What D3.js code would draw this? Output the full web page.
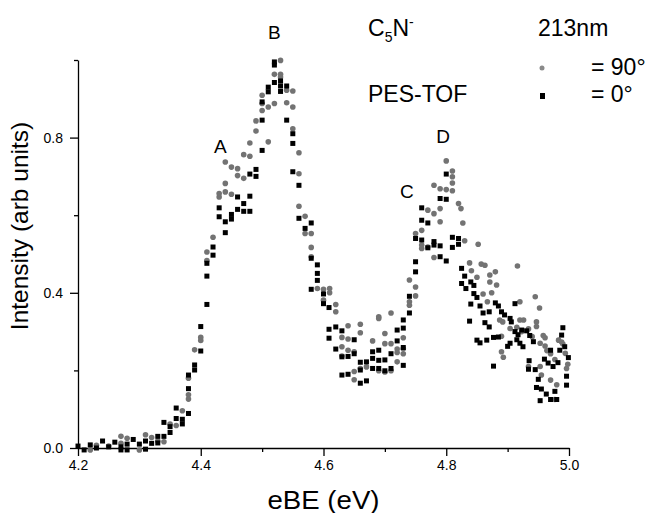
<!DOCTYPE html>
<html>
<head>
<meta charset="utf-8">
<script src="https://cdn.jsdelivr.net/npm/d3@7"></script>
<style>
  body { margin: 0; background: #fff; }
  text { font-family: "Liberation Sans", Arial, sans-serif; fill: #000; }
  .tick text { font-family: "Liberation Sans Narrow", "Liberation Sans", Arial, sans-serif; }
</style>
</head>
<body>
<div id="chart"></div>
<script>
// 90 degree polarisation (grey circles)
var eBE90 = [4.220,4.230,4.250,4.270,4.270,4.280,4.300,4.310,4.320,4.330,4.340,4.350,4.360,4.370,4.380,4.380,4.380,4.390,4.400,4.400,
  4.410,4.410,4.420,4.430,4.430,4.440,4.440,4.450,4.460,4.440,4.450,4.460,4.470,4.470,4.480,4.480,4.490,4.490,4.500,4.500,
  4.500,4.510,4.510,4.520,4.520,4.530,4.530,4.530,4.540,4.540,4.550,4.550,4.550,4.560,4.560,4.560,4.570,4.570,4.580,4.580,
  4.580,4.590,4.600,4.600,4.610,4.610,4.620,4.620,4.630,4.630,4.630,4.640,4.640,4.640,4.650,4.650,4.650,4.660,4.660,4.660,
  4.670,4.680,4.690,4.690,4.690,4.700,4.700,4.700,4.710,4.710,4.710,4.720,4.720,4.720,4.730,4.730,4.730,4.740,4.740,4.740,
  4.750,4.750,4.750,4.760,4.760,4.760,4.770,4.770,4.780,4.780,4.780,4.790,4.790,4.790,4.800,4.800,4.810,4.810,4.810,4.810,
  4.820,4.824,4.827,4.830,4.852,4.838,4.857,4.863,4.916,4.841,4.850,4.871,4.880,4.871,4.882,4.860,4.874,4.867,4.887,4.892,
  4.920,4.945,4.952,4.920,4.926,4.904,4.915,4.947,4.947,4.923,4.934,4.890,4.890,4.893,4.940,4.953,4.961,4.964,4.958,4.961,
  4.983,4.988,4.990,4.970,4.977,4.994,4.998,4.996,4.934,4.953,4.955,4.970,4.980,4.977];
var int90 = [-0.005,0.007,0.005,0.030,0.012,0.025,-0.005,0.034,0.027,0.018,0.016,0.062,0.058,0.096,0.180,0.137,0.126,0.253,0.285,0.277,
  0.505,0.483,0.543,0.647,0.656,0.682,0.737,0.724,0.720,0.660,0.654,0.702,0.695,0.756,0.752,0.786,0.817,0.843,0.870,0.888,
  0.909,0.879,0.789,0.888,0.963,0.999,0.963,0.956,0.922,0.890,0.920,0.879,0.823,0.761,0.707,0.623,0.597,0.553,0.553,0.517,
  0.493,0.411,0.409,0.381,0.411,0.400,0.370,0.351,0.285,0.261,0.237,0.315,0.281,0.252,0.248,0.197,0.176,0.319,0.297,0.205,
  0.209,0.276,0.338,0.334,0.199,0.295,0.269,0.196,0.348,0.269,0.199,0.255,0.246,0.222,0.284,0.256,0.243,0.433,0.377,0.368,
  0.415,0.392,0.553,0.561,0.523,0.514,0.613,0.518,0.604,0.491,0.677,0.668,0.617,0.583,0.666,0.740,0.714,0.699,0.683,0.663,
  0.630,0.617,0.580,0.534,0.525,0.477,0.474,0.471,0.469,0.457,0.440,0.446,0.454,0.428,0.420,0.397,0.400,0.377,0.330,0.325,
  0.377,0.390,0.361,0.330,0.330,0.308,0.311,0.325,0.313,0.300,0.307,0.288,0.248,0.234,0.287,0.270,0.263,0.251,0.290,0.284,
  0.278,0.273,0.268,0.243,0.228,0.244,0.216,0.205,0.210,0.210,0.188,0.175,0.163,0.125];

// 0 degree polarisation (black squares)
var eBE0 = [4.200,4.210,4.220,4.230,4.240,4.250,4.260,4.270,4.270,4.280,4.280,4.290,4.300,4.310,4.310,4.320,4.330,4.330,4.340,4.340,
  4.350,4.350,4.360,4.360,4.370,4.370,4.380,4.380,4.380,4.390,4.390,4.400,4.400,4.410,4.410,4.410,4.420,4.420,4.430,4.430,
  4.440,4.440,4.450,4.450,4.460,4.460,4.470,4.470,4.480,4.480,4.480,4.490,4.490,4.500,4.500,4.500,4.510,4.510,4.520,4.520,
  4.520,4.530,4.530,4.530,4.540,4.540,4.550,4.550,4.550,4.560,4.560,4.570,4.580,4.580,4.580,4.590,4.590,4.590,4.600,4.600,
  4.609,4.609,4.609,4.620,4.620,4.630,4.630,4.630,4.640,4.640,4.650,4.650,4.660,4.660,4.660,4.670,4.670,4.680,4.680,4.680,
  4.690,4.690,4.690,4.700,4.700,4.710,4.710,4.720,4.720,4.730,4.730,4.730,4.730,4.740,4.740,4.750,4.750,4.750,4.760,4.760,
  4.760,4.770,4.770,4.780,4.780,4.790,4.790,4.790,4.800,4.800,4.800,4.810,4.810,4.820,4.820,4.825,4.830,4.825,4.832,4.840,
  4.845,4.845,4.840,4.850,4.855,4.838,4.860,4.870,4.863,4.870,4.880,4.885,4.890,4.895,4.904,4.912,4.906,4.850,4.855,4.866,
  4.877,4.885,4.877,4.900,4.904,4.912,4.917,4.915,4.920,4.925,4.923,4.931,4.936,4.942,4.935,4.934,4.945,4.950,4.947,4.955,
  4.953,4.963,4.970,4.977,4.980,4.960,4.966,4.974,4.982,4.970,4.985,4.988,4.990,4.996,4.996,4.999,4.993];
var int0 = [0.005,-0.005,0.008,0.000,0.018,0.003,0.015,-0.005,0.003,-0.005,0.010,0.022,0.010,-0.003,0.018,0.012,0.013,0.030,0.030,0.066,
  0.040,0.055,0.103,0.076,0.062,0.074,0.089,0.153,0.188,0.201,0.214,0.250,0.313,0.370,0.443,0.476,0.518,0.497,0.619,0.596,
  0.583,0.555,0.602,0.590,0.647,0.615,0.630,0.610,0.649,0.610,0.706,0.718,0.700,0.767,0.845,0.892,0.930,0.918,0.995,0.987,
  0.942,0.946,0.933,0.919,0.933,0.845,0.810,0.785,0.712,0.677,0.592,0.566,0.580,0.489,0.409,0.472,0.450,0.432,0.397,0.372,
  0.362,0.306,0.283,0.312,0.255,0.302,0.235,0.188,0.236,0.190,0.279,0.243,0.221,0.201,0.167,0.173,0.222,0.248,0.231,0.205,
  0.252,0.226,0.205,0.227,0.199,0.243,0.205,0.304,0.276,0.330,0.309,0.259,0.213,0.391,0.348,0.480,0.454,0.540,0.536,0.587,
  0.619,0.580,0.516,0.532,0.523,0.521,0.493,0.643,0.641,0.706,0.482,0.543,0.517,0.540,0.525,0.463,0.443,0.424,0.411,0.428,
  0.419,0.398,0.371,0.388,0.366,0.327,0.348,0.351,0.323,0.312,0.374,0.366,0.351,0.343,0.334,0.372,0.325,0.278,0.271,0.278,
  0.285,0.286,0.211,0.262,0.270,0.300,0.292,0.279,0.270,0.261,0.304,0.302,0.290,0.274,0.225,0.203,0.202,0.177,0.156,0.152,
  0.122,0.139,0.125,0.146,0.125,0.229,0.219,0.210,0.220,0.252,0.252,0.291,0.310,0.185,0.162,0.233,0.261];

var xTicks = [4.2, 4.4, 4.6, 4.8, 5.0];
var xMinor = [4.3, 4.5, 4.7, 4.9];
var yTicks = [0.0, 0.4, 0.8];
var yMinor = [0.2, 0.6, 1.0];

var margin = {top: 60, right: 80, bottom: 65, left: 78},
    width = 649 - margin.left - margin.right,
    height = 513 - margin.top - margin.bottom;

var svg = d3.select("#chart").append("svg")
    .attr("width", 649)
    .attr("height", 513)
    .style("background-color", "white")
  .append("g")
    .attr("transform", "translate(" + margin.left + "," + margin.top + ")");

var x = d3.scaleLinear().domain([4.2, 5.0]).range([0, width]);
var y = d3.scaleLinear().domain([0, 1.0]).range([height, 0]);

// axes: labelled major ticks plus short unlabelled minor ticks
var xAxis = svg.append("g")
    .attr("transform", "translate(0," + height + ")")
    .call(d3.axisBottom(x).tickValues(xTicks).tickFormat(d3.format(".1f")).tickSize(8).tickSizeOuter(0).tickPadding(4));
svg.append("g")
    .attr("transform", "translate(0," + height + ")")
    .call(d3.axisBottom(x).tickValues(xMinor).tickFormat("").tickSize(4).tickSizeOuter(0))
    .select(".domain").remove();

var yAxis = svg.append("g")
    .call(d3.axisLeft(y).tickValues(yTicks).tickFormat(d3.format(".1f")).tickSize(8).tickSizeOuter(0).tickPadding(7));
svg.append("g")
    .call(d3.axisLeft(y).tickValues(yMinor).tickFormat("").tickSize(4).tickSizeOuter(0))
    .select(".domain").remove();

svg.selectAll(".domain, .tick line").attr("stroke-width", 1.3);
svg.selectAll(".tick text").style("font-size", "14px");

// points
var grey = d3.zip(eBE90, int90);
var black = d3.zip(eBE0, int0);

svg.selectAll("circle.p90")
  .data(grey)
  .enter().append("circle")
    .attr("class", "p90")
    .attr("cx", function(d) { return x(d[0]); })
    .attr("cy", function(d) { return y(d[1]); })
    .attr("r", 2.8)
    .attr("fill", "#737373");

svg.selectAll("rect.p0")
  .data(black)
  .enter().append("rect")
    .attr("class", "p0")
    .attr("x", function(d) { return x(d[0]) - 2.5; })
    .attr("y", function(d) { return y(d[1]) - 2.5; })
    .attr("width", 5)
    .attr("height", 5)
    .attr("fill", "#000");

// axis titles
svg.append("text")
    .attr("x", width / 2)
    .attr("y", height + 61)
    .attr("text-anchor", "middle")
    .attr("textLength", 112)
    .attr("lengthAdjust", "spacingAndGlyphs")
    .style("font-size", "25px")
    .text("eBE (eV)");

svg.append("text")
    .attr("transform", "translate(" + (-margin.left + 28) + "," + (height / 2 - 28) + ") rotate(-90)")
    .attr("text-anchor", "middle")
    .style("font-size", "24.5px")
    .text("Intensity (arb units)");

// peak labels
var peakNames = ["A", "B", "C", "D"];
var peakX = [4.432, 4.520, 4.736, 4.795];
var peakY = [0.76, 1.055, 0.645, 0.785];
svg.selectAll("text.peak")
  .data(peakNames)
  .enter().append("text")
    .attr("class", "peak")
    .attr("x", function(d, i) { return x(peakX[i]); })
    .attr("y", function(d, i) { return y(peakY[i]); })
    .attr("text-anchor", "middle")
    .style("font-size", "19px")
    .text(function(d) { return d; });

// annotations
var note = svg.append("text")
    .attr("x", 368 - margin.left)
    .attr("y", 36 - margin.top)
    .style("font-size", "23px");
note.append("tspan").text("C");
note.append("tspan").attr("dy", 6).style("font-size", "14px").text("5");
note.append("tspan").attr("dy", -6).text("N");
note.append("tspan").attr("dy", -9).style("font-size", "14px").text("-");

svg.append("text")
    .attr("x", 538 - margin.left)
    .attr("y", 36 - margin.top)
    .style("font-size", "23px")
    .text("213nm");

svg.append("text")
    .attr("x", 368 - margin.left)
    .attr("y", 102 - margin.top)
    .style("font-size", "23px")
    .text("PES-TOF");

// legend
svg.append("circle")
    .attr("cx", 542 - margin.left)
    .attr("cy", 68 - margin.top)
    .attr("r", 2.5)
    .attr("fill", "#8a8a8a");
svg.append("rect")
    .attr("x", 540 - margin.left)
    .attr("y", 93 - margin.top)
    .attr("width", 5)
    .attr("height", 6)
    .attr("fill", "#000");
svg.append("text")
    .attr("x", 591 - margin.left)
    .attr("y", 75 - margin.top)
    .style("font-size", "23px")
    .text("= 90°");
svg.append("text")
    .attr("x", 591 - margin.left)
    .attr("y", 102 - margin.top)
    .style("font-size", "23px")
    .text("= 0°");
</script>
</body>
</html>
